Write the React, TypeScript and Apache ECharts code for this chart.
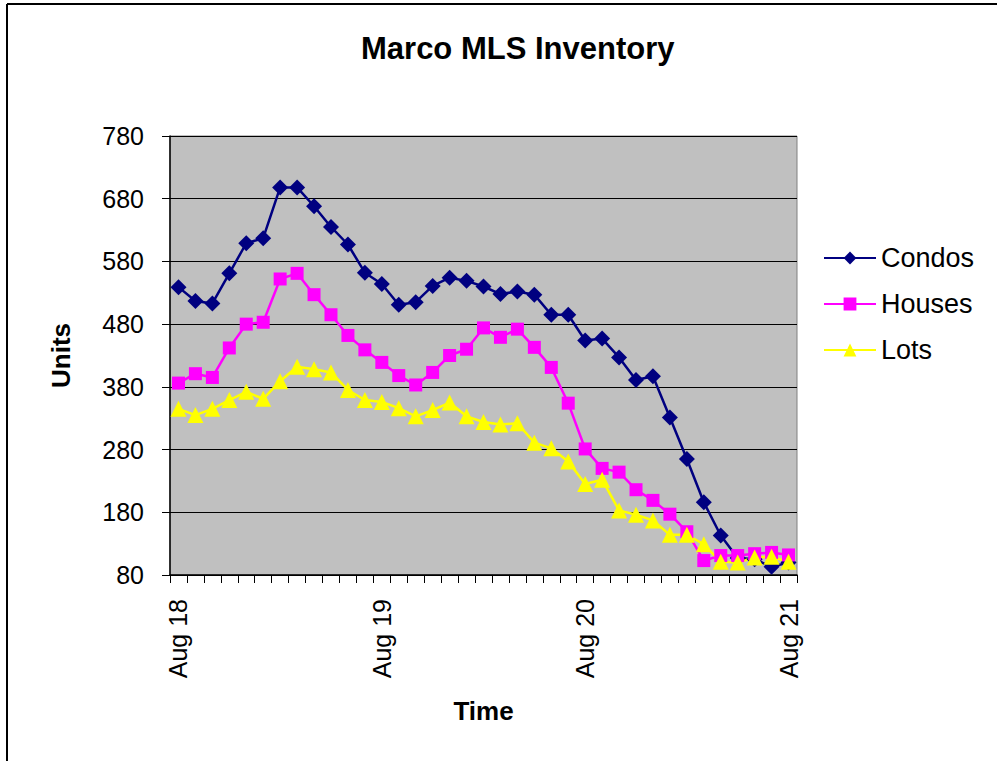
import React, { useEffect, useRef } from "react";
import * as echarts from "echarts";

const months: string[] = [
  "Aug 18", "Sep 18", "Oct 18", "Nov 18", "Dec 18", "Jan 19", "Feb 19", "Mar 19", "Apr 19", "May 19", "Jun 19", "Jul 19",
  "Aug 19", "Sep 19", "Oct 19", "Nov 19", "Dec 19", "Jan 20", "Feb 20", "Mar 20", "Apr 20", "May 20", "Jun 20", "Jul 20",
  "Aug 20", "Sep 20", "Oct 20", "Nov 20", "Dec 20", "Jan 21", "Feb 21", "Mar 21", "Apr 21", "May 21", "Jun 21", "Jul 21",
  "Aug 21",
];

const condos: number[] = [
  539, 517, 513, 561, 609, 617, 698, 698, 668, 635, 607, 562,
  544, 511, 515, 541, 554, 549, 540, 528, 532, 527, 495, 495,
  454, 457, 427, 391, 397, 331, 265, 196, 143, 107, 105, 93,
  100,
];

const houses: number[] = [
  386, 401, 395, 442, 480, 483, 552, 561, 527, 495, 462, 439,
  419, 398, 383, 403, 430, 440, 474, 459, 472, 443, 411, 354,
  281, 250, 244, 216, 199, 177, 149, 103, 111, 111, 114, 116,
  112,
];

const lots: number[] = [
  345, 335, 345, 359, 372, 361, 389, 412, 408, 403, 375, 359,
  356, 346, 333, 343, 355, 333, 324, 320, 322, 291, 282, 261,
  225, 232, 183, 176, 167, 144, 144, 129, 101, 100, 108, 109,
  101,
];

const yMin = 80;
const yMax = 780;
const yStep = 100;

const FONT = "'Liberation Sans', Arial, sans-serif";

export default function App() {
  const ref = useRef<HTMLDivElement>(null);

  useEffect(() => {
    if (!ref.current) return;
    const chart = echarts.init(ref.current, undefined, { renderer: "svg" });
    const mkSeries = (name: string, data: number[], color: string, symbol: string, size: number) => ({
      name,
      type: "line",
      data,
      symbol,
      symbolSize: size,
      showSymbol: true,
      showAllSymbol: true,
      lineStyle: { color, width: 2.5 },
      itemStyle: { color, borderWidth: 0 },
      emphasis: { disabled: true },
    });
    chart.setOption({
      animation: false,
      backgroundColor: "#ffffff",
      textStyle: { fontFamily: FONT },
      title: {
        text: "Marco MLS Inventory",
        left: 356,
        top: 28,
        textStyle: { fontFamily: FONT, fontSize: 31, fontWeight: "bold", color: "#000" },
      },
      legend: {
        orient: "vertical",
        left: 823,
        top: 243,
        padding: 0,
        itemWidth: 52,
        itemHeight: 16,
        itemGap: 16,
        data: ["Condos", "Houses", "Lots"],
        textStyle: { fontFamily: FONT, fontSize: 27, color: "#000", lineHeight: 30 },
      },
      grid: {
        left: 170,
        top: 136,
        right: 200,
        bottom: 186,
        show: true,
        backgroundColor: "#C0C0C0",
        borderColor: "#808080",
        borderWidth: 1,
      },
      xAxis: {
        type: "category",
        data: months,
        boundaryGap: true,
        name: "Time",
        nameLocation: "middle",
        nameGap: 123,
        nameTextStyle: { fontFamily: FONT, fontSize: 26, fontWeight: "bold", color: "#000" },
        axisLine: { show: true, lineStyle: { color: "#000", width: 1.5 } },
        axisTick: { show: true, interval: 0, length: 8, lineStyle: { color: "#000" } },
        axisLabel: {
          interval: (i: number) => i % 12 === 0,
          rotate: 90,
          margin: 24,
          fontFamily: FONT,
          fontSize: 25,
          color: "#000",
        },
        splitLine: { show: false },
      },
      yAxis: {
        type: "value",
        min: yMin,
        max: yMax,
        interval: yStep,
        name: "Units",
        nameLocation: "middle",
        nameRotate: 90,
        nameGap: 96,
        nameTextStyle: { fontFamily: FONT, fontSize: 26, fontWeight: "bold", color: "#000" },
        axisLine: { show: true, lineStyle: { color: "#000", width: 1.5 } },
        axisTick: { show: true, length: 8, lineStyle: { color: "#000" } },
        axisLabel: { margin: 26, fontFamily: FONT, fontSize: 25, color: "#000" },
        splitLine: { show: true, lineStyle: { color: "#000", width: 1 } },
      },
      graphic: [
        { type: "line", shape: { x1: 7, y1: 4, x2: 997, y2: 4 }, style: { stroke: "#000", lineWidth: 2 } },
        { type: "line", shape: { x1: 7, y1: 4, x2: 7, y2: 761 }, style: { stroke: "#000", lineWidth: 2 } },
      ],
      series: [
        mkSeries("Condos", condos, "#000080", "diamond", 16),
        mkSeries("Houses", houses, "#FF00FF", "rect", 13),
        mkSeries("Lots", lots, "#FFFF00", "triangle", 16),
      ],
    });
    return () => chart.dispose();
  }, []);

  return (
    <div
      ref={ref}
      style={{ position: "fixed", left: 0, top: 0, width: 997, height: 761 }}
    />
  );
}
